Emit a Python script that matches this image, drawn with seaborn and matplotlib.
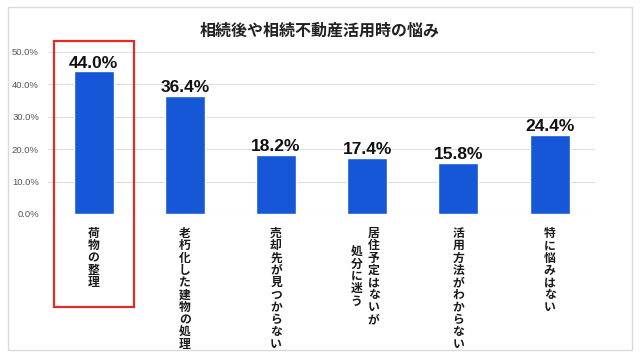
import numpy as np
import pandas as pd
import matplotlib.pyplot as plt
from matplotlib.patches import Rectangle
from matplotlib.ticker import StrMethodFormatter
import seaborn as sns

# survey: worries after inheriting / when using inherited real estate
title = '相続後や相続不動産活用時の悩み'
categories = ['荷物の整理', '老朽化した建物の処理', '売却先が見つからない',
              '居住予定はないが処分に迷う', '活用方法がわからない', '特に悩みはない']
# vertical label columns (right column first, as in Japanese vertical writing)
label_columns = [['荷物の整理'], ['老朽化した建物の処理'], ['売却先が見つからない'],
                 ['居住予定はないが', '処分に迷う'], ['活用方法がわからない'], ['特に悩みはない']]
values = [44.0, 36.4, 18.2, 17.4, 15.8, 24.4]
yticks = [0, 10, 20, 30, 40, 50]

sns.set_style('white')
plt.rcParams['font.family'] = ['Noto Sans CJK JP', 'DejaVu Sans']

df = pd.DataFrame({'item': categories, 'pct': values})

fig = plt.figure(figsize=(6.4, 3.57), dpi=100)
ax = fig.add_axes([0.075, 0.4006, 0.855, 0.454])
sns.barplot(data=df, x='item', y='pct', color='#1557d6', saturation=1,
            width=0.44, ax=ax, zorder=3)

ax.set_xlim(-0.5, 5.5)
ax.set_ylim(0, 50)
ax.set_yticks(yticks)
ax.yaxis.set_major_formatter(StrMethodFormatter('{x:.1f}%'))
ax.grid(axis='y', color='#dedede', lw=0.8, zorder=0)
ax.grid(axis='x', visible=False)
for s in ax.spines.values():
    s.set_visible(False)
ax.tick_params(axis='y', length=0, pad=6.5, labelsize=6.8, labelcolor='#555555')
for lab in ax.get_yticklabels():
    lab.set_family('Liberation Sans')
ax.tick_params(axis='x', length=0)
ax.set_xticklabels([])
ax.set_xlabel('')
ax.set_ylabel('')

ax.bar_label(ax.containers[0], labels=[f'{v:.1f}%' for v in values], padding=0.5,
             fontsize=12.5, fontweight='bold', family='Liberation Sans', color='#111111')

# vertical category labels
trans = ax.get_xaxis_transform()
for i, cols in enumerate(label_columns):
    xr = i + (0.07 if len(cols) > 1 else 0)
    t = ax.text(xr, -0.08, '\n'.join(cols[0]), transform=trans, ha='center', va='top',
                fontsize=8.5, fontweight='bold', linespacing=0.93, color='#1a1a1a')
    prev = t
    for col in cols[1:]:
        prev = ax.annotate('\n'.join(col), xy=(0, 0.5), xycoords=prev, xytext=(-4, 0),
                           textcoords='offset points', ha='right', va='center',
                           fontsize=8.5, fontweight='bold', linespacing=0.93, color='#1a1a1a')

# highlight box round the first item
ax.add_patch(Rectangle((-0.43, -0.574), 0.87, 1.642, transform=trans, clip_on=False,
                       fill=False, ec='#e02b2b', lw=1.6, zorder=5))

fig.text(0.5, 0.915, title, ha='center', va='center', fontsize=11.5, fontweight='bold',
         color='#222222')

# light frame round the chart
fig.patches.append(Rectangle((8 / 640, 7 / 357), 624 / 640, 343 / 357,
                             transform=fig.transFigure, fill=False, ec='#dadada', lw=1))

fig.savefig('out.png', dpi=100)
